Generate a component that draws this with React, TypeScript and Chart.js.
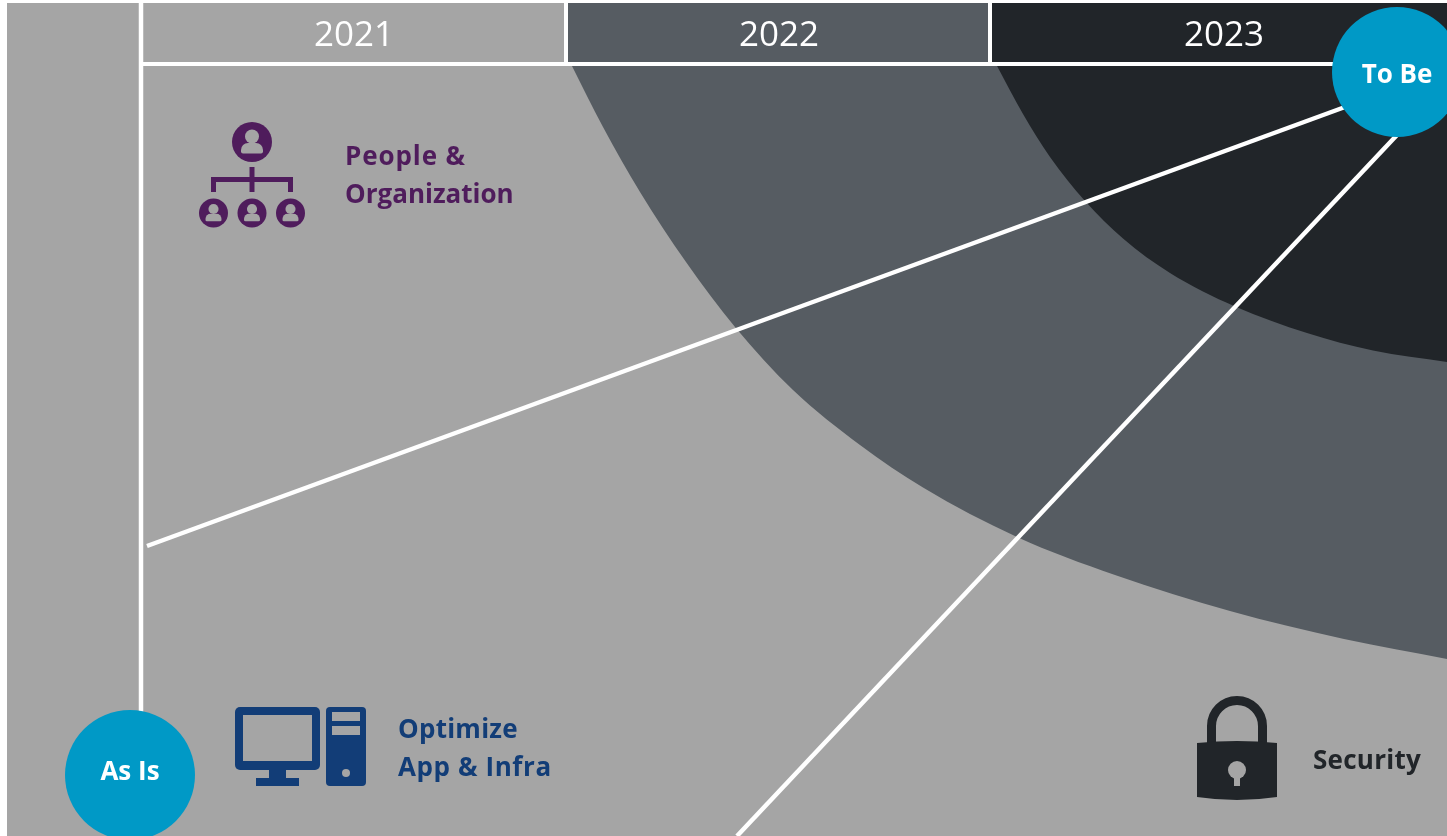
import React, { useEffect, useRef } from "react";
import { Chart, registerables } from "chart.js";

Chart.register(...registerables);

// ---- data ----
const yearLabels = ["2021", "2022", "2023"];
const milestoneLabels = ["As Is", "To Be"];
const dimensionLabels = [["People &", "Organization"], ["Optimize", "App & Infra"], ["Security"]];

const curve2022X = [571, 603, 640, 686, 735, 793, 860, 923, 1017, 1115, 1230, 1344, 1447];
const curve2022Y = [64, 127, 192, 262, 327, 390, 445, 487.5, 537, 575, 611, 639, 659];
const curve2023X = [996, 1023, 1050, 1085, 1123, 1170, 1235, 1307, 1373, 1447];
const curve2023Y = [64, 114, 157, 201, 238.5, 273, 306.5, 333, 350.5, 362];

const peopleLineX = [147, 1345];
const peopleLineY = [546, 107];
const securityLineX = [737, 1397];
const securityLineY = [836, 135];

const asIsPoint = [130, 775];
const toBePoint = [1397, 72];

// ---- layout ----
const W = 1447;
const H = 836;
const GRAY = "#a5a5a5";
const SLATE = "#565c62";
const DARK = "#212529";
const BLUE = "#0099c6";
const PURPLE = "#4f1c5c";
const NAVY = "#123d77";
const WHITE = "#ffffff";

const zip = (xs: number[], ys: number[]) => xs.map((x, i) => ({ x, y: ys[i] }));

const area = (label: string, xs: number[], ys: number[], color: string, to: number, order: number, smooth = false) => ({
  type: "line" as const,
  label,
  data: zip(xs, ys),
  borderWidth: 0,
  borderColor: color,
  backgroundColor: color,
  pointRadius: 0,
  fill: { target: { value: to } },
  cubicInterpolationMode: smooth ? ("monotone" as const) : ("default" as const),
  order,
});

const rule = (label: string, xs: number[], ys: number[], width: number, order: number) => ({
  type: "line" as const,
  label,
  data: zip(xs, ys),
  borderWidth: width,
  borderColor: WHITE,
  pointRadius: 0,
  fill: false,
  borderCapStyle: "butt" as const,
  order,
});

const dot = (label: string, p: number[], order: number) => ({
  type: "line" as const,
  label,
  data: [{ x: p[0], y: p[1] }],
  showLine: false,
  pointRadius: 65,
  pointHoverRadius: 65,
  pointBorderWidth: 0,
  pointBackgroundColor: BLUE,
  order,
});

const overlay = {
  id: "overlay",
  afterDatasetsDraw(chart: any) {
    const c: any = chart.ctx;
    const sx = chart.scales.x;
    const sy = chart.scales.y;
    const X = (v: number) => sx.getPixelForValue(v);
    const Y = (v: number) => sy.getPixelForValue(v);

    const rect = (x0: number, y0: number, x1: number, y1: number, col: string, r = 0) => {
      c.fillStyle = col;
      c.beginPath();
      c.roundRect(X(x0), Y(y0), X(x1) - X(x0), Y(y1) - Y(y0), r);
      c.fill();
    };
    const disc = (x: number, y: number, r: number, col: string) => {
      c.fillStyle = col;
      c.beginPath();
      c.arc(X(x), Y(y), r, 0, Math.PI * 2);
      c.fill();
    };
    const person = (x: number, y: number, r: number) => {
      disc(x, y, r, PURPLE);
      const k = r / 20;
      disc(x, y - 5.5 * k, 7 * k, GRAY);
      c.fillStyle = GRAY;
      c.beginPath();
      c.roundRect(X(x - 11 * k), Y(y + 1 * k), 22 * k, 10.5 * k, [7 * k, 7 * k, 2 * k, 2 * k]);
      c.fill();
    };

    c.save();

    // People & Organization icon
    person(252, 142, 20);
    rect(249.5, 167, 254.5, 192, PURPLE);
    rect(211, 177, 293, 182, PURPLE);
    rect(211, 177, 216, 192, PURPLE);
    rect(288, 177, 293, 192, PURPLE);
    person(213.5, 213, 14.5);
    person(252, 213, 14.5);
    person(290.5, 213, 14.5);

    // Computer icon
    rect(235, 707, 320, 770, NAVY, 5);
    rect(243, 715, 312, 761, GRAY);
    rect(269, 770, 286, 778, NAVY);
    rect(256, 778, 299, 786, NAVY);
    rect(326, 707, 366, 786, NAVY, 4);
    rect(332, 712, 360, 721, GRAY);
    rect(332, 726, 360, 735, GRAY);
    disc(346, 773, 4, GRAY);

    // Lock icon
    c.strokeStyle = DARK;
    c.lineWidth = 9;
    c.beginPath();
    c.moveTo(X(1211.5), Y(745));
    c.lineTo(X(1211.5), Y(726));
    c.arc(X(1237), Y(726), 25.5, Math.PI, 0);
    c.lineTo(X(1262.5), Y(745));
    c.stroke();
    c.fillStyle = DARK;
    c.beginPath();
    c.moveTo(X(1197), Y(743));
    c.quadraticCurveTo(X(1237), Y(739), X(1277), Y(743));
    c.lineTo(X(1277), Y(797));
    c.quadraticCurveTo(X(1237), Y(803), X(1197), Y(797));
    c.closePath();
    c.fill();
    disc(1237, 770, 9, GRAY);
    rect(1234, 772, 1240, 786, GRAY);

    // Text
    c.textBaseline = "alphabetic";
    const text = (s: string, x: number, y: number, col: string, font: string, align: CanvasTextAlign, gap = 0) => {
      c.font = font;
      c.fillStyle = col;
      c.textAlign = align;
      c.letterSpacing = `${gap}px`;
      c.fillText(s, X(x), Y(y));
      c.letterSpacing = "0px";
    };
    const yearFont = '35px "Open Sans"';
    const yearCenters = [354, 779, 1224];
    yearLabels.forEach((s, i) => text(s, yearCenters[i], 46, WHITE, yearFont, "center"));

    const tagFont = '700 26px "Open Sans"';
    text(milestoneLabels[0], asIsPoint[0], 780, WHITE, tagFont, "center");
    text(milestoneLabels[1], toBePoint[0], 83, WHITE, tagFont, "center");

    const dimFont = '700 26px "Open Sans"';
    text(dimensionLabels[0][0], 345, 165, PURPLE, dimFont, "left", 0.9);
    text(dimensionLabels[0][1], 345, 203, PURPLE, dimFont, "left");
    text(dimensionLabels[1][0], 398, 738, NAVY, dimFont, "left", 0.25);
    text(dimensionLabels[1][1], 398, 776, NAVY, dimFont, "left", 0.6);
    text(dimensionLabels[2][0], 1313, 769, DARK, dimFont, "left", 0.25);

    c.restore();
  },
};

export default function App() {
  const ref = useRef<HTMLCanvasElement | null>(null);

  useEffect(() => {
    const chart = new Chart(ref.current as HTMLCanvasElement, {
      type: "line",
      data: {
        datasets: [
          area("Canvas", [7, W], [3, 3], GRAY, H, 100),
          area("2022 band", curve2022X, curve2022Y, SLATE, 64, 90, true),
          area("2023 band", curve2023X, curve2023Y, DARK, 64, 80, true),
          area("2022 head", [566, 990], [3, 3], SLATE, 64, 70),
          area("2023 head", [990, W], [3, 3], DARK, 64, 60),
          rule("Axis", [141, 141], [0, 712], 4.5, 50),
          rule("Head rule", [141, 1340], [64, 64], 4, 49),
          rule("Sep 2022", [566, 566], [0, 64], 4, 48),
          rule("Sep 2023", [990, 990], [0, 64], 4, 47),
          rule("People", peopleLineX, peopleLineY, 4.5, 40),
          rule("Security", securityLineX, securityLineY, 4.5, 39),
          dot("As Is", asIsPoint, 10),
          dot("To Be", toBePoint, 9),
        ] as any,
      },
      options: {
        responsive: false,
        animation: false,
        devicePixelRatio: 1,
        parsing: false,
        normalized: true,
        layout: { padding: 0, autoPadding: false },
        events: [],
        plugins: { legend: { display: false }, tooltip: { enabled: false }, title: { display: false } },
        scales: {
          x: { type: "linear", display: false, min: 0, max: W },
          y: { type: "linear", display: false, min: 0, max: H, reverse: true },
        },
      } as any,
      plugins: [overlay],
    });
    return () => chart.destroy();
  }, []);

  return (
    <div style={{ position: "fixed", left: 0, top: 0, width: W, height: H, background: "#fff" }}>
      <canvas ref={ref} width={W} height={H} style={{ display: "block", width: W, height: H }} />
    </div>
  );
}
